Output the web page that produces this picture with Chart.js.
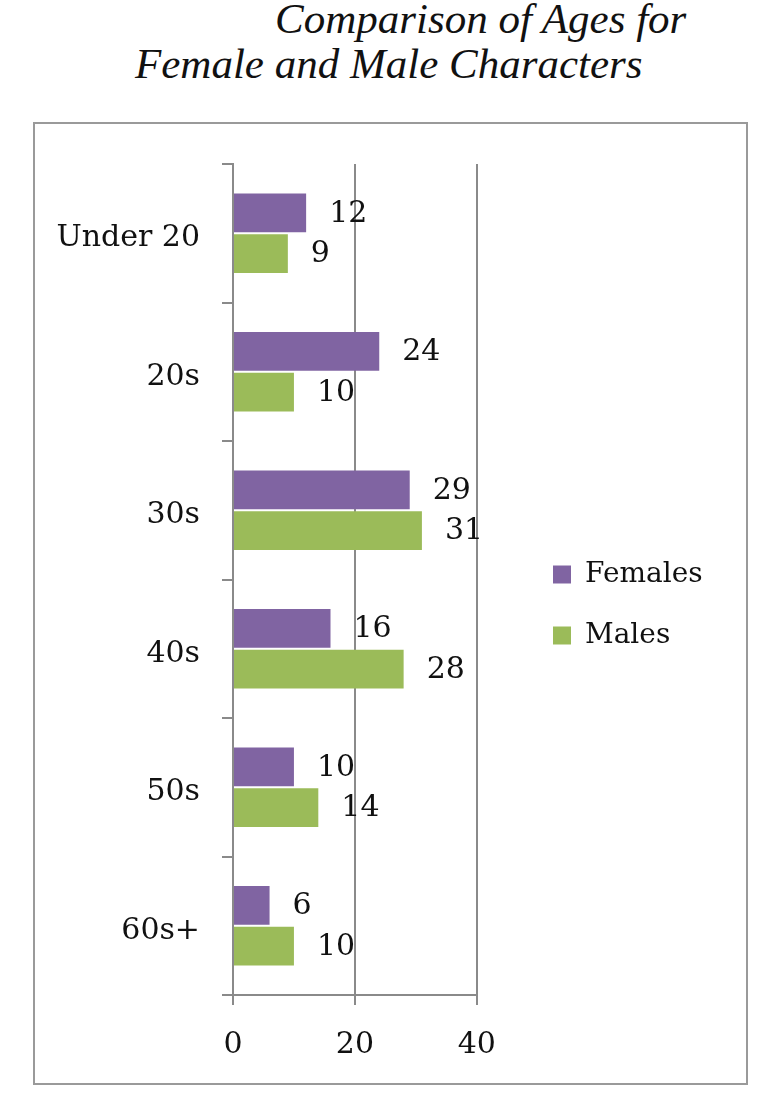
<!DOCTYPE html>
<html>
<head>
<meta charset="utf-8">
<script src="https://cdn.jsdelivr.net/npm/chart.js@4.4.0/dist/chart.umd.min.js"></script>
<style>
  body { margin: 0; background: #fff; width: 759px; height: 1098px; position: relative; overflow: hidden; }
  .title { position: absolute; font-family: "Liberation Serif", serif; font-style: italic; font-size: 43px; line-height: 40px; color: #111; white-space: nowrap; }
  #box { position: absolute; left: 33px; top: 122px; width: 711px; height: 959px; border: 2px solid #9a9a9a; }
</style>
</head>
<body>
<div class="title" style="left:275px; top:-1px;">Comparison of Ages for</div>
<div class="title" style="left:135px; top:44px;">Female and Male Characters</div>
<div id="box"><canvas id="chart"></canvas></div>
<script>
const ageGroups = ['Under 20', '20s', '30s', '40s', '50s', '60s+'];
const females = [12, 24, 29, 16, 10, 6];
const males = [9, 10, 31, 28, 14, 10];
const xTicks = [0, 20, 40];

const axisColor = '#8a8a8a';
const serif = 'DejaVu Serif';

// numbers to the right of each bar
const barLabels = {
    id: 'barLabels',
    afterDatasetsDraw(chart) {
        const ctx = chart.ctx;
        ctx.save();
        ctx.font = '30px "' + serif + '"';
        ctx.fillStyle = '#111';
        ctx.textAlign = 'left';
        ctx.textBaseline = 'middle';
        chart.data.datasets.forEach((ds, i) => {
            chart.getDatasetMeta(i).data.forEach((bar, j) => {
                ctx.fillText(ds.data[j], bar.x + 23, bar.y + 1);
            });
        });
        ctx.restore();
    }
};

// move legend into the free space right of the plot
const legendShift = {
    id: 'legendShift',
    afterLayout(chart) {
        const l = chart.legend;
        const dx = 518 - (l.left + 33);
        const dy = -18;
        l.left += dx;
        l.right = l.left + 220;
        l.width = 220;
        l.top += dy; l.bottom += dy;
    }
};

document.addEventListener('DOMContentLoaded', function () {
    const canvas = document.getElementById('chart');
    canvas.width = 711;
    canvas.height = 959;
    canvas.style.width = '711px';
    canvas.style.height = '959px';

    new Chart(canvas, {
        type: 'bar',
        data: {
            labels: ageGroups,
            datasets: [
                { label: 'Females', data: females, backgroundColor: '#8064A2' },
                { label: 'Males', data: males, backgroundColor: '#9BBB59' }
            ]
        },
        options: {
            indexAxis: 'y',
            responsive: false,
            animation: false,
            categoryPercentage: 0.59,
            barPercentage: 0.95,
            layout: { padding: { top: 39, left: 0, right: 122, bottom: 0 } },
            plugins: {
                tooltip: { enabled: false },
                legend: {
                    position: 'right',
                    labels: {
                        boxWidth: 18,
                        boxHeight: 18,
                        padding: 33,
                        color: '#111',
                        font: { family: serif, size: 28 }
                    }
                }
            },
            scales: {
                x: {
                    min: 0,
                    max: 40,
                    afterBuildTicks: (s) => { s.ticks = xTicks.map(v => ({ value: v })); },
                    afterFit: (s) => { s.height = 88; },
                    grid: { color: axisColor, lineWidth: 2, tickLength: 10 },
                    border: { color: axisColor, width: 2 },
                    ticks: { padding: 22, color: '#111', font: { family: serif, size: 30 } }
                },
                y: {
                    afterFit: (s) => { s.width = 198; },
                    grid: { offset: true, drawOnChartArea: false, color: axisColor, lineWidth: 2, tickLength: 11 },
                    border: { color: axisColor, width: 2 },
                    ticks: { padding: 22, labelOffset: 5, color: '#111', font: { family: serif, size: 30 } }
                }
            }
        },
        plugins: [barLabels, legendShift]
    });
});
</script>
</body>
</html>
